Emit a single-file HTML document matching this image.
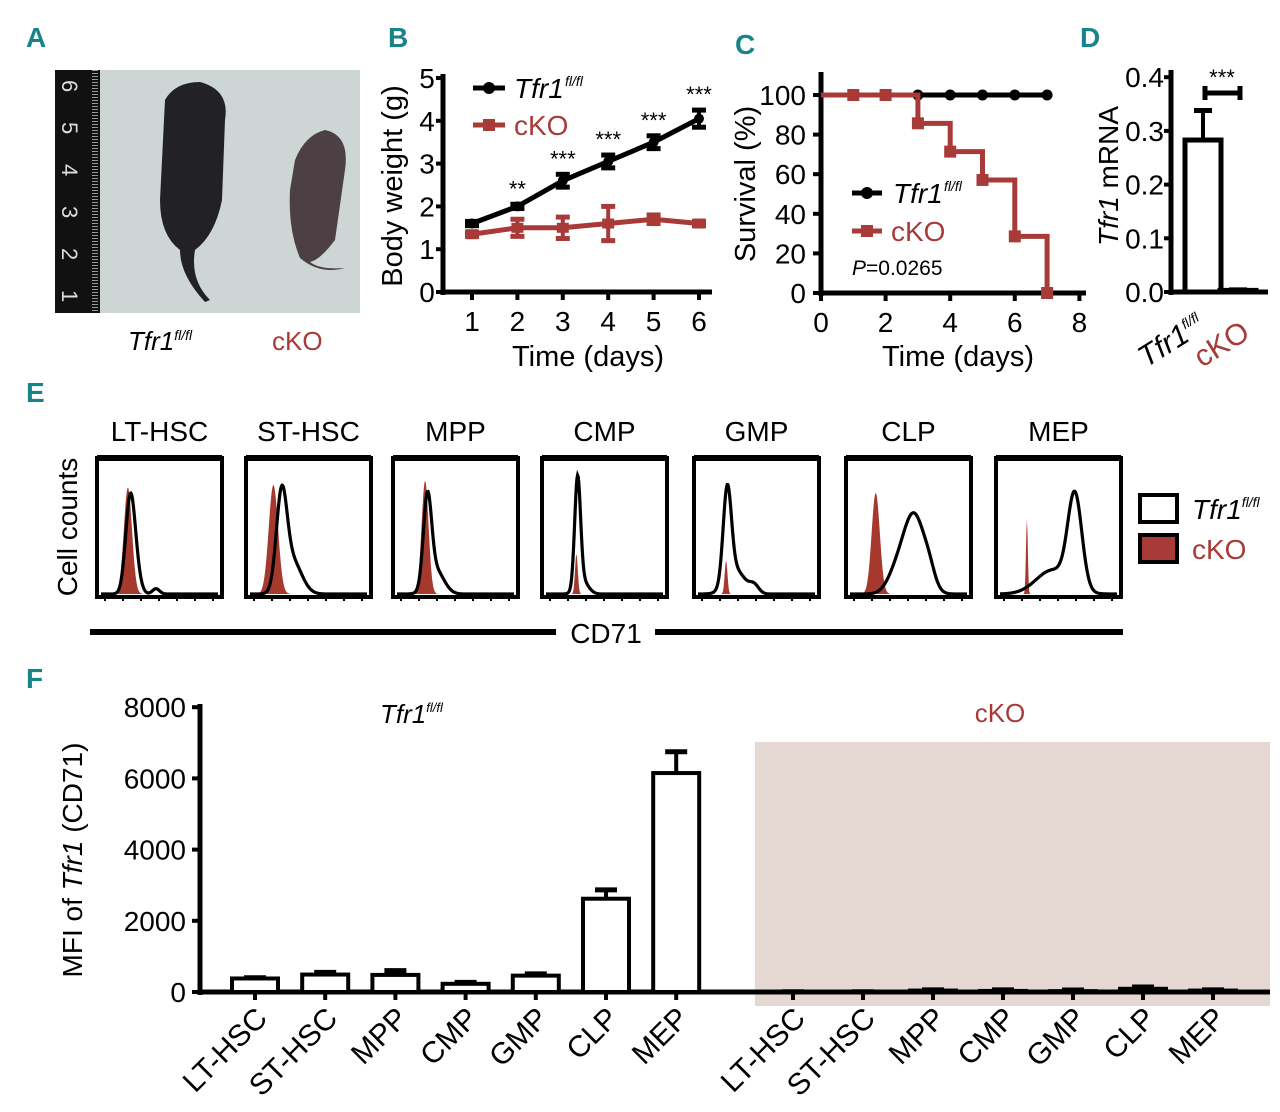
<!DOCTYPE html>
<html><head><meta charset="utf-8">
<style>
html,body{margin:0;padding:0;background:#fff;}
svg{display:block;font-family:"Liberation Sans Narrow","Liberation Sans",sans-serif;}
.lt{font-family:"Liberation Sans",sans-serif;}
</style></head>
<body>
<svg id="fig" width="1280" height="1112" viewBox="0 0 1280 1112" xmlns="http://www.w3.org/2000/svg">
<g fill="#17848a" font-weight="bold" font-size="28" font-family="Liberation Sans Narrow, Liberation Sans, sans-serif">
<text x="26" y="47">A</text>
<text x="388" y="47">B</text>
<text x="735" y="54">C</text>
<text x="1080" y="47">D</text>
<text x="26" y="402">E</text>
<text x="26" y="688">F</text>
</g>

<!-- Panel A photo -->
<g>
<rect x="55" y="70" width="305" height="243" fill="#cdd6d4"/>
<rect x="55" y="70" width="45" height="243" fill="#111"/>
<g fill="#ddd" font-size="22" class="lt">
<text x="62" y="80" transform="rotate(90 62 80)">6</text>
<text x="62" y="122" transform="rotate(90 62 122)">5</text>
<text x="62" y="164" transform="rotate(90 62 164)">4</text>
<text x="62" y="206" transform="rotate(90 62 206)">3</text>
<text x="62" y="248" transform="rotate(90 62 248)">2</text>
<text x="62" y="290" transform="rotate(90 62 290)">1</text>
</g>
<line x1="95" y1="70" x2="95" y2="313" stroke="#999" stroke-width="6" stroke-dasharray="1 2"/>
<path d="M165,100 Q175,82 200,82 Q230,90 225,120 L222,200 Q215,235 195,250 Q190,280 210,300 L205,302 Q180,275 180,250 Q160,235 160,200 Z" fill="#222226"/>
<path d="M295,160 Q305,135 325,130 Q350,135 345,170 L335,240 Q320,260 310,262 Q320,270 345,268 Q320,275 300,258 Q288,230 290,190 Z" fill="#4d4044"/>
</g>
<text x="128" y="350" font-size="26" font-style="italic" class="lt">Tfr1<tspan font-size="14" dy="-10">fl/fl</tspan></text>
<text x="272" y="350" font-size="26" fill="#a83a38" class="lt">cKO</text>

<g id="panelB"></g>
<g id="panelC"></g>
<g id="panelD"></g>
<g id="panelE"></g>
<g id="panelF"></g>
</svg>
<script>
// ---------- Panel B data ----------
const bDays = [1, 2, 3, 4, 5, 6];
const bFlox = [1.6, 2.0, 2.6, 3.05, 3.5, 4.05];
const bFloxErr = [0.05, 0.05, 0.15, 0.15, 0.15, 0.2];
const bCko = [1.35, 1.5, 1.5, 1.6, 1.7, 1.6];
const bCkoErr = [0.05, 0.2, 0.25, 0.4, 0.1, 0.05];
const bStars = ["", "**", "***", "***", "***", "***"];
const bYTicks = [0, 1, 2, 3, 4, 5];
// ---------- Panel C data ----------
const cDays = [0, 1, 2, 3, 4, 5, 6, 7];
const cFlox = [100, 100, 100, 100, 100, 100, 100, 100];
const cCko = [100, 100, 100, 85.7, 71.4, 57.1, 28.6, 0];
const cXTicks = [0, 2, 4, 6, 8];
const cYTicks = [0, 20, 40, 60, 80, 100];
// ---------- Panel D data ----------
const dGroups = ["Tfr1", "cKO"];
const dValues = [0.283, 0.003];
const dErr = [0.055, 0.001];
const dYTicks = [0.0, 0.1, 0.2, 0.3, 0.4];
// ---------- Panel E data ----------
const eNames = ["LT-HSC", "ST-HSC", "MPP", "CMP", "GMP", "CLP", "MEP"];
const eRed = [[0.23,0.035,0.80],[0.20,0.04,0.82],[0.24,0.03,0.85],[0.26,0.012,0.30],[0.24,0.012,0.25],[0.22,0.035,0.76],[0.23,0.008,0.56]];
const eBlack = [
 [[0.25,0.04,0.70],[0.30,0.04,0.12],[0.47,0.03,0.04]],
 [[0.27,0.045,0.68],[0.36,0.08,0.25]],
 [[0.26,0.035,0.66],[0.33,0.07,0.18]],
 [[0.27,0.025,0.82],[0.31,0.05,0.10]],
 [[0.25,0.035,0.70],[0.32,0.08,0.18],[0.48,0.04,0.06]],
 [[0.55,0.09,0.58],[0.40,0.08,0.15],[0.68,0.05,0.10]],
 [[0.64,0.06,0.70],[0.45,0.14,0.18]]
];
// ---------- Panel F data ----------
const fCats = ["LT-HSC", "ST-HSC", "MPP", "CMP", "GMP", "CLP", "MEP"];
const fFlox = [380, 490, 480, 230, 460, 2620, 6150];
const fFloxErr = [20, 60, 120, 40, 50, 250, 600];
const fCko = [5, 5, 40, 30, 25, 90, 40];
const fCkoErr = [3, 3, 20, 30, 30, 50, 20];
const fYTicks = [0, 2000, 4000, 6000, 8000];

const NS = "http://www.w3.org/2000/svg";
const RED = "#a83a38";
function mk(parent, tag, attrs, text) {
  const e = document.createElementNS(NS, tag);
  for (const k in attrs) e.setAttribute(k, attrs[k]);
  if (text !== undefined) e.textContent = text;
  parent.appendChild(e);
  return e;
}

// ===== Panel B =====
(function(){
  const g = document.getElementById('panelB');
  const x = d => 472 + (d - 1) * 45.4;
  const y = v => 292 - v * 42.8;
  let e;
  e = mk(g,'line',{x1:443,y1:74,x2:443,y2:295,stroke:'#000','stroke-width':5});
   
  e = mk(g,'line',{x1:441,y1:292,x2:712,y2:292,stroke:'#000','stroke-width':5});
   
  bYTicks.forEach(t => {
    mk(g,'line',{x1:436,y1:y(t),x2:443,y2:y(t),stroke:'#000','stroke-width':4});
    e = mk(g,'text',{x:427,y:y(t)+10,'font-size':28,'text-anchor':'middle'},String(t));
     
  });
  bDays.forEach(d => {
    mk(g,'line',{x1:x(d),y1:292,x2:x(d),y2:300,stroke:'#000','stroke-width':4});
    e = mk(g,'text',{x:x(d),y:331,'font-size':28,'text-anchor':'middle'},String(d));
     
  });
  e = mk(g,'text',{x:588,y:366,'font-size':29,'text-anchor':'middle'},'Time (days)');
   
  e = mk(g,'text',{x:0,y:0,'font-size':29,'text-anchor':'middle',transform:'translate(402,186) rotate(-90)'},'Body weight (g)');
   
  function series(vals, errs, col, sq, name) {
    const pts = bDays.map((d,i)=>x(d)+','+y(vals[i])).join(' ');
    e = mk(g,'polyline',{points:pts,fill:'none',stroke:col,'stroke-width':5});
     
    bDays.forEach((d,i)=>{
      const y1=y(vals[i]+errs[i]), y2=y(vals[i]-errs[i]);
      mk(g,'line',{x1:x(d),y1:y1,x2:x(d),y2:y2,stroke:col,'stroke-width':4});
      mk(g,'line',{x1:x(d)-7,y1:y1,x2:x(d)+7,y2:y1,stroke:col,'stroke-width':5});
      mk(g,'line',{x1:x(d)-7,y1:y2,x2:x(d)+7,y2:y2,stroke:col,'stroke-width':5});
      if (sq) e = mk(g,'rect',{x:x(d)-6,y:y(vals[i])-5,width:12,height:10,fill:col});
      else e = mk(g,'circle',{cx:x(d),cy:y(vals[i]),r:5,fill:col});
       
    });
  }
  series(bCko,bCkoErr,RED,true,'cko');
  series(bFlox,bFloxErr,'#000',false,'flox');
  bStars.forEach((s,i)=>{ if(!s) return;
    e = mk(g,'text',{x:x(bDays[i]),y:y(bFlox[i]+bFloxErr[i])-8,'font-size':22,'text-anchor':'middle'},s);
     
  });
  mk(g,'line',{x1:473,y1:88,x2:505,y2:88,stroke:'#000','stroke-width':5});
  mk(g,'circle',{cx:489,cy:88,r:6,fill:'#000'});
  e = mk(g,'text',{x:514,y:98,'font-size':28,'font-style':'italic'},'Tfr1');
   
  mk(g,'text',{x:565,y:86,'font-size':14,'font-style':'italic'},'fl/fl');
  mk(g,'line',{x1:473,y1:125,x2:505,y2:125,stroke:RED,'stroke-width':5});
  mk(g,'rect',{x:483,y:119,width:12,height:12,fill:RED});
  e = mk(g,'text',{x:514,y:135,'font-size':28,fill:RED},'cKO');
   
})();

// ===== Panel C =====
(function(){
  const g = document.getElementById('panelC');
  const x = d => 821 + d * 32.3;
  const y = v => 293 - v * 1.98;
  let e;
  e = mk(g,'line',{x1:821,y1:72,x2:821,y2:296,stroke:'#000','stroke-width':5});
   
  e = mk(g,'line',{x1:819,y1:293,x2:1086,y2:293,stroke:'#000','stroke-width':5});
   
  cYTicks.forEach(t=>{
    mk(g,'line',{x1:813,y1:y(t),x2:821,y2:y(t),stroke:'#000','stroke-width':4});
    e = mk(g,'text',{x:806,y:y(t)+10,'font-size':28,'text-anchor':'end'},String(t));
     
  });
  cXTicks.forEach(t=>{
    mk(g,'line',{x1:x(t),y1:293,x2:x(t),y2:301,stroke:'#000','stroke-width':4});
    e = mk(g,'text',{x:x(t),y:332,'font-size':28,'text-anchor':'middle'},String(t));
     
  });
  e = mk(g,'text',{x:958,y:366,'font-size':29,'text-anchor':'middle'},'Time (days)');
   
  e = mk(g,'text',{x:0,y:0,'font-size':29,'text-anchor':'middle',transform:'translate(755,184) rotate(-90)'},'Survival (%)');
   
  e = mk(g,'polyline',{points:cDays.map((d,i)=>x(d)+','+y(cFlox[i])).join(' '),fill:'none',stroke:'#000','stroke-width':5});
   
  cDays.forEach((d,i)=>{ if(d<3) return;
    e = mk(g,'circle',{cx:x(d),cy:y(cFlox[i]),r:5.5,fill:'#000'});
     
  });
  let p = [];
  cDays.forEach((d,i)=>{ if(i>0) p.push(x(d)+','+y(cCko[i-1])); p.push(x(d)+','+y(cCko[i])); });
  e = mk(g,'polyline',{points:p.join(' '),fill:'none',stroke:RED,'stroke-width':5});
   
  cDays.forEach((d,i)=>{ if(d===0) return;
    e = mk(g,'rect',{x:x(d)-6,y:y(cCko[i])-6,width:12,height:12,fill:RED});
     
  });
  mk(g,'line',{x1:852,y1:193,x2:882,y2:193,stroke:'#000','stroke-width':5});
  mk(g,'circle',{cx:867,cy:193,r:6,fill:'#000'});
  e = mk(g,'text',{x:893,y:203,'font-size':28,'font-style':'italic'},'Tfr1');
   
  mk(g,'text',{x:944,y:191,'font-size':14,'font-style':'italic'},'fl/fl');
  mk(g,'line',{x1:852,y1:231,x2:882,y2:231,stroke:RED,'stroke-width':5});
  mk(g,'rect',{x:861,y:225,width:12,height:12,fill:RED});
  e = mk(g,'text',{x:891,y:241,'font-size':28,fill:RED},'cKO');
   
  e = mk(g,'text',{x:852,y:275,'font-size':21},'');
  e.innerHTML = '<tspan font-style="italic">P</tspan>=0.0265';
   
})();

// ===== Panel D =====
(function(){
  const g = document.getElementById('panelD');
  const y = v => 292 - v * 537;
  const xc = [1203, 1238];
  let e;
  e = mk(g,'line',{x1:1171,y1:70,x2:1171,y2:295,stroke:'#000','stroke-width':5});
   
  e = mk(g,'line',{x1:1169,y1:292,x2:1268,y2:292,stroke:'#000','stroke-width':5});
   
  dYTicks.forEach(t=>{
    mk(g,'line',{x1:1164,y1:y(t),x2:1171,y2:y(t),stroke:'#000','stroke-width':4});
    e = mk(g,'text',{x:1164,y:y(t)+10,'font-size':28,'text-anchor':'end'},t.toFixed(1));
     
  });
  e = mk(g,'text',{x:0,y:0,'font-size':28,'text-anchor':'middle',transform:'translate(1118,176) rotate(-90)'},'');
  e.innerHTML = '<tspan font-style="italic">Tfr1</tspan> mRNA';
   
  dValues.forEach((v,i)=>{
    mk(g,'line',{x1:xc[i],y1:y(v),x2:xc[i],y2:y(v+dErr[i]),stroke:'#000','stroke-width':4});
    mk(g,'line',{x1:xc[i]-9,y1:y(v+dErr[i]),x2:xc[i]+9,y2:y(v+dErr[i]),stroke:'#000','stroke-width':5});
    e = mk(g,'rect',{x:xc[i]-18,y:y(v),width:36,height:292-y(v),fill:'#fff',stroke:'#000','stroke-width':5});
     
  });
  mk(g,'line',{x1:1205,y1:93,x2:1240,y2:93,stroke:'#000','stroke-width':5});
  mk(g,'line',{x1:1205,y1:86,x2:1205,y2:100,stroke:'#000','stroke-width':5});
  mk(g,'line',{x1:1240,y1:86,x2:1240,y2:100,stroke:'#000','stroke-width':5});
  e = mk(g,'text',{x:1222,y:85,'font-size':22,'text-anchor':'middle'},'***');
   
  e = mk(g,'text',{x:0,y:0,'font-size':30,'font-style':'italic',transform:'translate(1146,368) rotate(-32)'},'');
  e.innerHTML = 'Tfr1<tspan font-size="14" dy="-12">fl/fl</tspan>';
   
  e = mk(g,'text',{x:0,y:0,'font-size':30,fill:RED,transform:'translate(1202,368) rotate(-32)'},'cKO');
   
})();

// ===== Panel E =====
(function(){
  const g = document.getElementById('panelE');
  const bx = [97, 246, 393, 542, 694, 846, 996];
  const bw = 125, by = 458, bh = 139;
  let e;
  function dens(comps, t){ let s=0; comps.forEach(c=>{ s += c[2]*Math.exp(-0.5*Math.pow((t-c[0])/c[1],2)); }); return s; }
  eNames.forEach((n,i)=>{
    const x0 = bx[i];
    const gx = t => x0 + 4 + t*(bw-8);
    const gy = h => by + bh - 3 - h*(bh-6);
    e = mk(g,'text',{x:x0+bw/2,y:441,'font-size':28,'text-anchor':'middle'},n);
     
    let rp = [];
    for (let k=0;k<=200;k++){ const t=k/200; rp.push(gx(t)+','+gy(dens([eRed[i]],t))); }
    e = mk(g,'polygon',{points:gx(0)+','+gy(0)+' '+rp.join(' ')+' '+gx(1)+','+gy(0),fill:'#a5392e'});
     
    let bp = [];
    for (let k=0;k<=200;k++){ const t=k/200; bp.push(gx(t)+','+gy(dens(eBlack[i],t))); }
    e = mk(g,'polyline',{points:bp.join(' '),fill:'none',stroke:'#000','stroke-width':3.2});
     
    e = mk(g,'rect',{x:x0,y:by,width:bw,height:bh,fill:'none',stroke:'#000','stroke-width':4});
     
    mk(g,'line',{x1:x0,y1:by,x2:x0+bw,y2:by,stroke:'#000','stroke-width':6});
    for (let k=0;k<7;k++) mk(g,'line',{x1:x0+8+k*18,y1:by+bh,x2:x0+8+k*18,y2:by+bh+4,stroke:'#000','stroke-width':2});
  });
  e = mk(g,'text',{x:0,y:0,'font-size':28,'text-anchor':'middle',class:'lt',transform:'translate(77,527) rotate(-90)'},'Cell counts');
   
  e = mk(g,'rect',{x:90,y:629,width:466,height:6,fill:'#000'});
   
  e = mk(g,'rect',{x:655,y:629,width:468,height:6,fill:'#000'});
   
  e = mk(g,'text',{x:606,y:643,'font-size':28,'text-anchor':'middle'},'CD71');
   
  e = mk(g,'rect',{x:1140,y:495,width:37,height:27,fill:'#fff',stroke:'#000','stroke-width':4});
   
  e = mk(g,'text',{x:1192,y:519,'font-size':28,'font-style':'italic'},'');
  e.innerHTML = 'Tfr1<tspan font-size="14" dy="-12">fl/fl</tspan>';
   
  e = mk(g,'rect',{x:1140,y:535,width:37,height:27,fill:RED,stroke:'#000','stroke-width':4});
   
  e = mk(g,'text',{x:1192,y:559,'font-size':28,fill:RED},'cKO');
   
})();

// ===== Panel F =====
(function(){
  const g = document.getElementById('panelF');
  const y = v => 992 - v * 0.0356;
  const xF = i => 255 + i * 70.2;
  const xK = i => 793 + i * 70;
  let e;
  e = mk(g,'rect',{x:755,y:742,width:515,height:264,fill:'#e5d8d3'});
   
  e = mk(g,'line',{x1:200,y1:704,x2:200,y2:995,stroke:'#000','stroke-width':5});
   
  e = mk(g,'line',{x1:198,y1:992,x2:1270,y2:992,stroke:'#000','stroke-width':5});
   
  fYTicks.forEach(t=>{
    mk(g,'line',{x1:192,y1:y(t),x2:200,y2:y(t),stroke:'#000','stroke-width':4});
    e = mk(g,'text',{x:186,y:y(t)+10,'font-size':28,'text-anchor':'end'},String(t));
     
  });
  e = mk(g,'text',{x:0,y:0,'font-size':28,'text-anchor':'middle',class:'lt',transform:'translate(82,860) rotate(-90)'},'');
  e.innerHTML = 'MFI of <tspan font-style="italic">Tfr1</tspan> (CD71)';
   
  function bars(vals, errs, xf, grp){
    vals.forEach((v,i)=>{
      const cx = xf(i);
      mk(g,'line',{x1:cx,y1:992,x2:cx,y2:1000,stroke:'#000','stroke-width':4});
      mk(g,'line',{x1:cx,y1:y(v),x2:cx,y2:y(v+errs[i]),stroke:'#000','stroke-width':4});
      mk(g,'line',{x1:cx-11,y1:y(v+errs[i]),x2:cx+11,y2:y(v+errs[i]),stroke:'#000','stroke-width':5});
      e = mk(g,'rect',{x:cx-23,y:y(v),width:46,height:Math.max(0,992-y(v)),fill:grp==='flox'?'#fff':'#111',stroke:'#000','stroke-width':4});
       
      e = mk(g,'text',{x:0,y:0,'font-size':30,'text-anchor':'end',transform:'translate('+(cx+14)+',1020) rotate(-45)'},fCats[i]);
       
    });
  }
  bars(fFlox,fFloxErr,xF,'flox');
  bars(fCko,fCkoErr,xK,'cko');
  e = mk(g,'text',{x:380,y:723,'font-size':26,'font-style':'italic'},'');
  e.innerHTML = 'Tfr1<tspan font-size="13" dy="-11">fl/fl</tspan>';
   
  e = mk(g,'text',{x:1000,y:722,'font-size':26,fill:RED,'text-anchor':'middle'},'cKO');
   
})();
</script>
</body></html>
